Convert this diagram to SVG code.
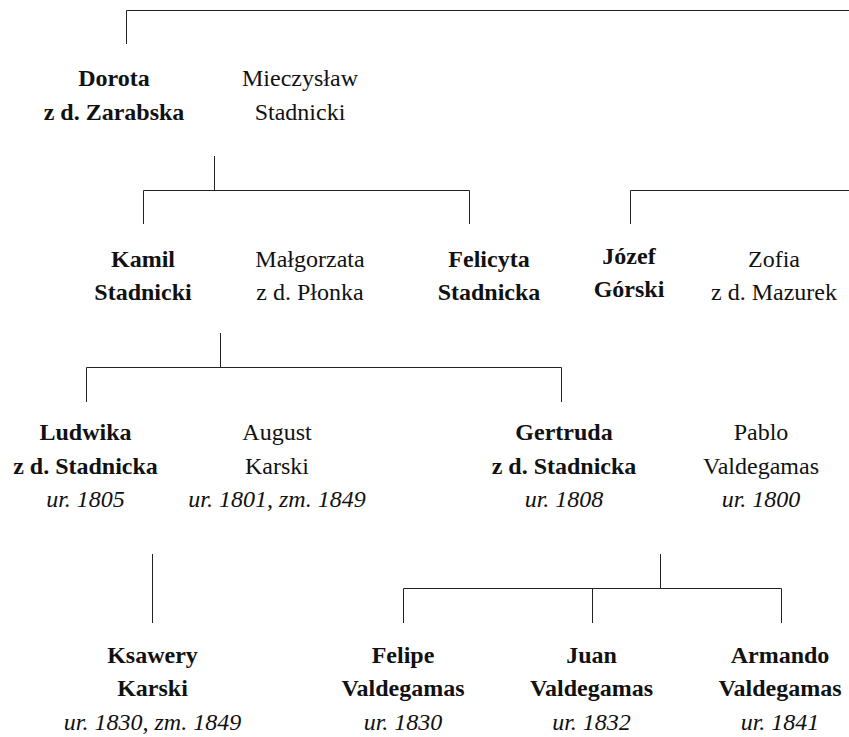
<svg xmlns="http://www.w3.org/2000/svg" width="849" height="737" viewBox="0 0 849 737">
<style>
.t text{font-family:"Liberation Serif","Times New Roman",serif;font-size:24px;fill:#111;text-anchor:middle}
.t .b{font-weight:bold}
.t .i{font-style:italic}
#connectors path{fill:none;stroke:#222;stroke-width:1}
</style>
<rect width="849" height="737" fill="#fff"/>
<g id="connectors">
<path d="M126.5,44 V10.5 H849"/>
<path d="M214.5,156 V190.5"/>
<path d="M143.5,224 V190.5 H469.5 V224"/>
<path d="M630.5,224 V190.5 H849"/>
<path d="M220.5,333 V367.5"/>
<path d="M86.5,402 V367.5 H561.5 V402"/>
<path d="M152.5,554 V623"/>
<path d="M660.5,554 V588.5"/>
<path d="M403.5,623 V588.5 H781.5 V623"/>
<path d="M592.5,588.5 V623"/>
</g>
<g class="t" font-family="Liberation Serif, serif">
<g id="dorota"><text class="b" x="114" y="86">Dorota</text><text class="b" x="114" y="119.5">z d. Zarabska</text></g>
<g id="mieczyslaw"><text x="300" y="86">Mieczysław</text><text x="300" y="119.5">Stadnicki</text></g>
<g id="kamil"><text class="b" x="143" y="266.5">Kamil</text><text class="b" x="143" y="300">Stadnicki</text></g>
<g id="malgorzata"><text x="310" y="266.5">Małgorzata</text><text x="310" y="300">z d. Płonka</text></g>
<g id="felicyta"><text class="b" x="489" y="266.5">Felicyta</text><text class="b" x="489" y="300">Stadnicka</text></g>
<g id="jozef"><text class="b" x="629" y="263.5">Józef</text><text class="b" x="629" y="297">Górski</text></g>
<g id="zofia"><text x="774" y="266.5">Zofia</text><text x="774" y="300">z d. Mazurek</text></g>
<g id="ludwika"><text class="b" x="85.5" y="439.5">Ludwika</text><text class="b" x="85.5" y="473.5">z d. Stadnicka</text><text class="i" x="85.5" y="507">ur. 1805</text></g>
<g id="august"><text x="277" y="439.5">August</text><text x="277" y="473.5">Karski</text><text class="i" x="277" y="507">ur. 1801, zm. 1849</text></g>
<g id="gertruda"><text class="b" x="564" y="439.5">Gertruda</text><text class="b" x="564" y="473.5">z d. Stadnicka</text><text class="i" x="564" y="507">ur. 1808</text></g>
<g id="pablo"><text x="761" y="439.5">Pablo</text><text x="761" y="473.5">Valdegamas</text><text class="i" x="761" y="507">ur. 1800</text></g>
<g id="ksawery"><text class="b" x="152.5" y="662.5">Ksawery</text><text class="b" x="152.5" y="696">Karski</text><text class="i" x="152.5" y="730">ur. 1830, zm. 1849</text></g>
<g id="felipe"><text class="b" x="403" y="662.5">Felipe</text><text class="b" x="403" y="696">Valdegamas</text><text class="i" x="403" y="730">ur. 1830</text></g>
<g id="juan"><text class="b" x="591.5" y="662.5">Juan</text><text class="b" x="591.5" y="696">Valdegamas</text><text class="i" x="591.5" y="730">ur. 1832</text></g>
<g id="armando"><text class="b" x="780" y="662.5">Armando</text><text class="b" x="780" y="696">Valdegamas</text><text class="i" x="780" y="730">ur. 1841</text></g>
</g>
</svg>
